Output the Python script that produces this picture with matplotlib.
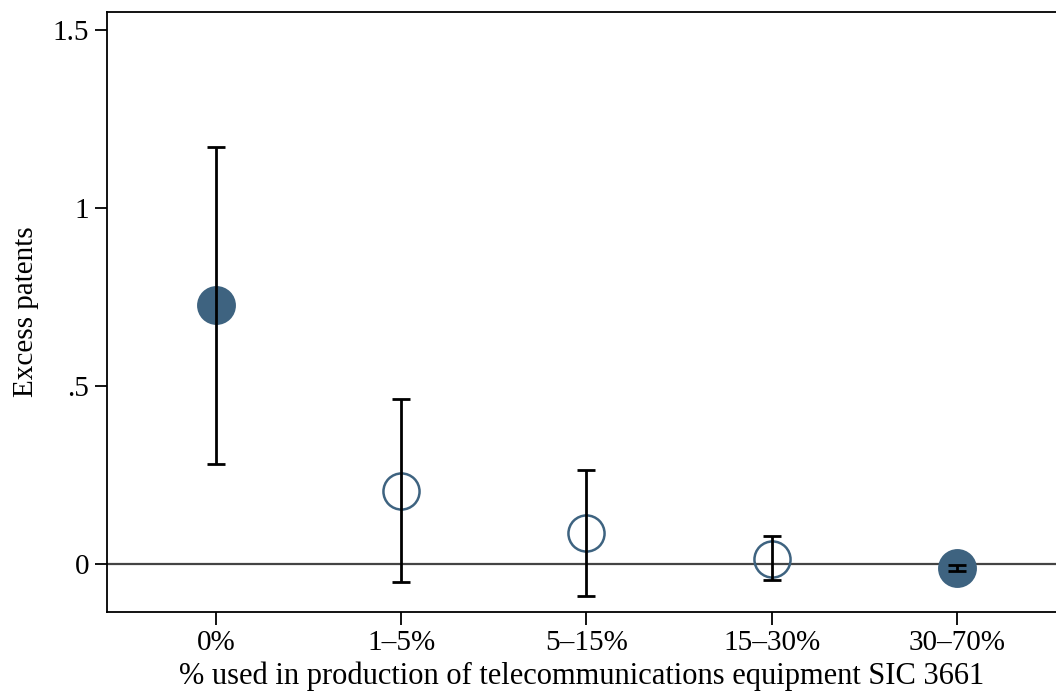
import matplotlib
matplotlib.use("Agg")
import matplotlib.pyplot as plt
import numpy as np

plt.rcParams['font.family'] = ['Liberation Serif', 'DejaVu Serif']

categories = ['0%', '1\u20135%', '5\u201315%', '15\u201330%', '30\u201370%']
estimates = [0.727, 0.205, 0.086, 0.015, -0.012]
ci_low = [0.280, -0.051, -0.091, -0.045, -0.020]
ci_high = [1.172, 0.463, 0.263, 0.079, -0.003]
filled = [True, False, False, False, True]

navy = '#3e6380'

fig = plt.figure(figsize=(10.56, 6.92), dpi=100)
ax = fig.add_axes([107 / 1056, 80 / 692, 949 / 1056, 600 / 692])

x = np.arange(1, len(categories) + 1)
est = np.array(estimates)
lo = np.array(ci_low)
hi = np.array(ci_high)

ax.axhline(0, color='#444444', lw=1.6, zorder=1)

for xi, e, f in zip(x, est, filled):
    if f:
        ax.plot(xi, e, 'o', ms=28, mfc=navy, mec=navy, mew=0, zorder=2)
    else:
        ax.plot(xi, e, 'o', ms=26, mfc='none', mec=navy, mew=1.8, zorder=2)

ax.errorbar(x, est, yerr=[est - lo, hi - est], fmt='none', ecolor='black',
            elinewidth=2, capsize=6.5, capthick=2, zorder=3)

ax.set_xlim(0.4116, 5.535)
ax.set_ylim(-0.135, 1.551)
ax.set_xticks(x)
ax.set_xticklabels(categories)
ax.set_yticks([0, 0.5, 1, 1.5])
ax.set_yticklabels(['0', '.5', '1', '1.5'])

ax.tick_params(axis='both', direction='out', length=9, width=1.3,
               labelsize=21, pad=4, colors='black')
for side in ['left', 'bottom', 'top']:
    ax.spines[side].set_linewidth(1.3)
ax.spines['right'].set_visible(False)

ax.set_ylabel('Excess patents', fontsize=21, labelpad=10)
ax.set_xlabel('% used in production of telecommunications equipment SIC 3661',
              fontsize=22, labelpad=4)

fig.savefig('out.png', dpi=100)
